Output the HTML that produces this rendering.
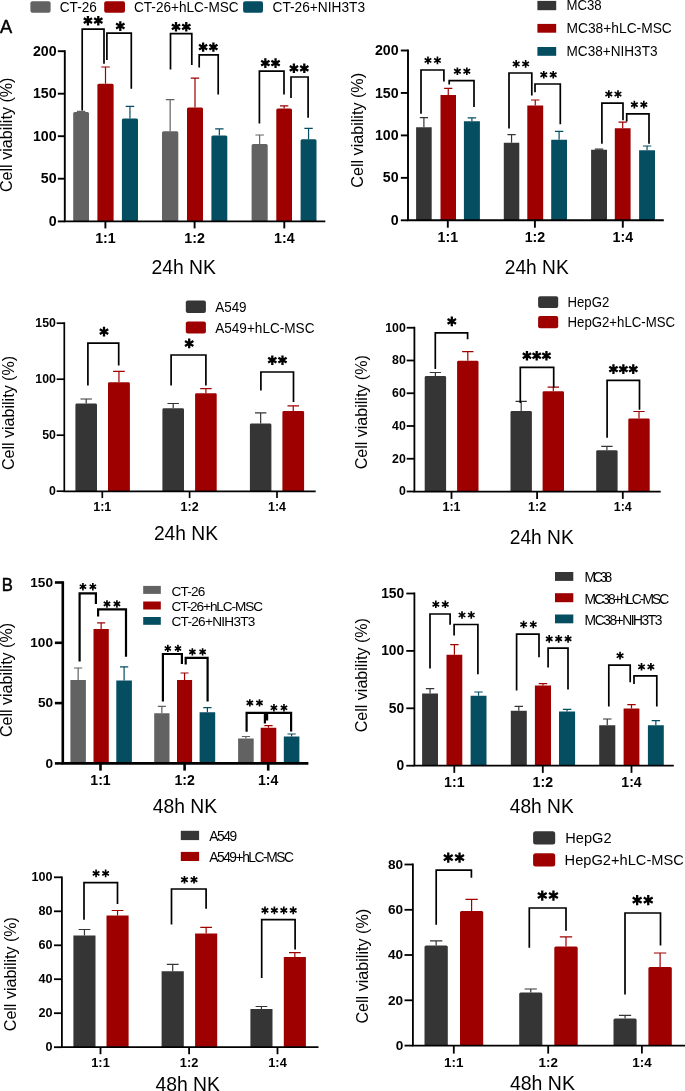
<!DOCTYPE html>
<html><head><meta charset="utf-8"><title>Figure</title>
<style>
html,body{margin:0;padding:0;background:#fff;}
body{width:685px;height:1091px;overflow:hidden;}
svg{display:block;will-change:transform;font-family:"Liberation Sans",sans-serif;fill:#000;}
</style></head>
<body>
<svg width="685" height="1091" viewBox="0 0 685 1091">
<rect x="0" y="0" width="685" height="1091" fill="#fff"/>
<g>
<path d="M81.1 112V111.4M76.91 111.4H85.29" stroke="#626262" stroke-width="1.2" fill="none"/>
<path d="M73.2 221.4V113.5Q73.2 112 74.7 112H87.5Q89 112 89 113.5V221.4Z" fill="#626262"/>
<path d="M105.5 83.7V67M101.21 67H109.79" stroke="#9E0000" stroke-width="1.2" fill="none"/>
<path d="M97.4 221.4V85.2Q97.4 83.7 98.9 83.7H112.1Q113.6 83.7 113.6 85.2V221.4Z" fill="#9E0000"/>
<path d="M129.95 118.6V106.3M125.68 106.3H134.22" stroke="#054E62" stroke-width="1.2" fill="none"/>
<path d="M121.9 221.4V120.1Q121.9 118.6 123.4 118.6H136.5Q138 118.6 138 120.1V221.4Z" fill="#054E62"/>
<path d="M170.15 131.2V99.7M165.83 99.7H174.47" stroke="#626262" stroke-width="1.2" fill="none"/>
<path d="M162 221.4V132.7Q162 131.2 163.5 131.2H176.8Q178.3 131.2 178.3 132.7V221.4Z" fill="#626262"/>
<path d="M195 107.5V78.1M190.76 78.1H199.24" stroke="#9E0000" stroke-width="1.2" fill="none"/>
<path d="M187 221.4V109Q187 107.5 188.5 107.5H201.5Q203 107.5 203 109V221.4Z" fill="#9E0000"/>
<path d="M219.35 135.6V128.8M215.14 128.8H223.56" stroke="#054E62" stroke-width="1.2" fill="none"/>
<path d="M211.4 221.4V137.1Q211.4 135.6 212.9 135.6H225.8Q227.3 135.6 227.3 137.1V221.4Z" fill="#054E62"/>
<path d="M259.65 143.9V135M255.38 135H263.92" stroke="#626262" stroke-width="1.2" fill="none"/>
<path d="M251.6 221.4V145.4Q251.6 143.9 253.1 143.9H266.2Q267.7 143.9 267.7 145.4V221.4Z" fill="#626262"/>
<path d="M284.15 108.5V105.8M279.99 105.8H288.31" stroke="#9E0000" stroke-width="1.2" fill="none"/>
<path d="M276.3 221.4V110Q276.3 108.5 277.8 108.5H290.5Q292 108.5 292 110V221.4Z" fill="#9E0000"/>
<path d="M308.55 139.3V128.3M304.34 128.3H312.76" stroke="#054E62" stroke-width="1.2" fill="none"/>
<path d="M300.6 221.4V140.8Q300.6 139.3 302.1 139.3H315Q316.5 139.3 316.5 140.8V221.4Z" fill="#054E62"/>
<path d="M64.8 50.25V221.4H325.3" stroke="#000" stroke-width="1.9" fill="none"/>
<path d="M57.85 221.4L64.8 221.4" stroke="#000" stroke-width="1.9"/>
<text x="56.6" y="225.98" font-size="14.2" text-anchor="end" font-weight="700">0</text>
<path d="M57.85 178.7L64.8 178.7" stroke="#000" stroke-width="1.9"/>
<text x="56.6" y="183.28" font-size="14.2" text-anchor="end" font-weight="700">50</text>
<path d="M57.85 136.2L64.8 136.2" stroke="#000" stroke-width="1.9"/>
<text x="56.6" y="140.78" font-size="14.2" text-anchor="end" font-weight="700">100</text>
<path d="M57.85 93.7L64.8 93.7" stroke="#000" stroke-width="1.9"/>
<text x="56.6" y="98.28" font-size="14.2" text-anchor="end" font-weight="700">150</text>
<path d="M57.85 51.2L64.8 51.2" stroke="#000" stroke-width="1.9"/>
<text x="56.6" y="55.78" font-size="14.2" text-anchor="end" font-weight="700">200</text>
<path d="M105.4 221.4L105.4 228.4" stroke="#000" stroke-width="1.9"/>
<text x="105.4" y="243" font-size="14.2" text-anchor="middle" font-weight="700">1:1</text>
<path d="M194.6 221.4L194.6 228.4" stroke="#000" stroke-width="1.9"/>
<text x="194.6" y="243" font-size="14.2" text-anchor="middle" font-weight="700">1:2</text>
<path d="M284.3 221.4L284.3 228.4" stroke="#000" stroke-width="1.9"/>
<text x="284.3" y="243" font-size="14.2" text-anchor="middle" font-weight="700">1:4</text>
<path d="M82.2 110.5V29.2H104V63.8" stroke="#000" stroke-width="1.7" fill="none"/>
<path d="M106.9 60V33.2H131.3V88.8" stroke="#000" stroke-width="1.7" fill="none"/>
<path d="M170.5 69.6V33.6H191.8V65" stroke="#000" stroke-width="1.7" fill="none"/>
<path d="M199.2 67.6V54.9H218.2V94.5" stroke="#000" stroke-width="1.7" fill="none"/>
<path d="M259.4 123.6V71.1H284V94.6" stroke="#000" stroke-width="1.7" fill="none"/>
<path d="M291 97.9V77H308.1V117.7" stroke="#000" stroke-width="1.7" fill="none"/>
<path d="M87.9 15.9L87.9 25.5M83.75 18.3L92.06 23.1M92.06 18.3L83.75 23.1" stroke="#000" stroke-width="2.3" fill="none"/>
<path d="M98.3 15.9L98.3 25.5M94.14 18.3L102.45 23.1M102.45 18.3L94.14 23.1" stroke="#000" stroke-width="2.3" fill="none"/>
<path d="M120.3 21.2L120.3 30.9M116.1 23.62L124.5 28.47M124.5 23.62L116.1 28.47" stroke="#000" stroke-width="2.3" fill="none"/>
<path d="M176 22L176 31.6M171.85 24.4L180.16 29.2M180.16 24.4L171.85 29.2" stroke="#000" stroke-width="2.3" fill="none"/>
<path d="M186.3 22L186.3 31.6M182.14 24.4L190.45 29.2M190.45 24.4L182.14 29.2" stroke="#000" stroke-width="2.3" fill="none"/>
<path d="M203.11 42.4L203.11 51.8M199.04 44.75L207.18 49.45M207.18 44.75L199.04 49.45" stroke="#000" stroke-width="2.3" fill="none"/>
<path d="M213.39 42.4L213.39 51.8M209.32 44.75L217.46 49.45M217.46 44.75L209.32 49.45" stroke="#000" stroke-width="2.3" fill="none"/>
<path d="M265.35 58.3L265.35 68M261.15 60.73L269.55 65.58M269.55 60.73L261.15 65.58" stroke="#000" stroke-width="2.3" fill="none"/>
<path d="M275.55 58.3L275.55 68M271.35 60.73L279.75 65.58M279.75 60.73L271.35 65.58" stroke="#000" stroke-width="2.3" fill="none"/>
<path d="M293.9 63.5L293.9 73.1M289.75 65.9L298.06 70.7M298.06 65.9L289.75 70.7" stroke="#000" stroke-width="2.3" fill="none"/>
<path d="M304.3 63.5L304.3 73.1M300.14 65.9L308.45 70.7M308.45 65.9L300.14 70.7" stroke="#000" stroke-width="2.3" fill="none"/>
<rect x="30.4" y="1.2" width="20.2" height="11.6" fill="#626262" rx="2"/>
<rect x="104.2" y="1.2" width="20.8" height="11.6" fill="#9E0000" rx="2"/>
<rect x="243.1" y="1.2" width="19.9" height="11.6" fill="#054E62" rx="2"/>
<text x="59.8" y="11.8" font-size="14" textLength="37" lengthAdjust="spacingAndGlyphs">CT-26</text>
<text x="134" y="11.8" font-size="14" textLength="104.6" lengthAdjust="spacingAndGlyphs">CT-26+hLC-MSC</text>
<text x="272.5" y="11.8" font-size="14" textLength="92.6" lengthAdjust="spacingAndGlyphs">CT-26+NIH3T3</text>
<text x="151.4" y="273.5" font-size="20.5" textLength="64.5" lengthAdjust="spacingAndGlyphs">24h NK</text>
<text x="12.3" y="192.1" font-size="16.6" textLength="114.6" lengthAdjust="spacingAndGlyphs" transform="rotate(-90 12.3 192.1)">Cell viability (%)</text>
</g>
<g>
<path d="M423.9 127.2V117.6M419.77 117.6H428.03" stroke="#353535" stroke-width="1.2" fill="none"/>
<path d="M416.1 220.3V127.21Q416.1 127.2 416.11 127.2H431.69Q431.7 127.2 431.7 127.21V220.3Z" fill="#353535"/>
<path d="M448.25 95V88.4M444.14 88.4H452.36" stroke="#9E0000" stroke-width="1.2" fill="none"/>
<path d="M440.5 220.3V95.01Q440.5 95 440.51 95H455.99Q456 95 456 95.01V220.3Z" fill="#9E0000"/>
<path d="M471.9 121.2V117.9M467.66 117.9H476.14" stroke="#054E62" stroke-width="1.2" fill="none"/>
<path d="M463.9 220.3V121.21Q463.9 121.2 463.91 121.2H479.89Q479.9 121.2 479.9 121.21V220.3Z" fill="#054E62"/>
<path d="M511.55 142.7V134.7M507.44 134.7H515.66" stroke="#353535" stroke-width="1.2" fill="none"/>
<path d="M503.8 220.3V142.71Q503.8 142.7 503.81 142.7H519.29Q519.3 142.7 519.3 142.71V220.3Z" fill="#353535"/>
<path d="M535.25 105.5V100M531.04 100H539.46" stroke="#9E0000" stroke-width="1.2" fill="none"/>
<path d="M527.3 220.3V105.51Q527.3 105.5 527.31 105.5H543.19Q543.2 105.5 543.2 105.51V220.3Z" fill="#9E0000"/>
<path d="M559.1 139.7V131.3M554.91 131.3H563.29" stroke="#054E62" stroke-width="1.2" fill="none"/>
<path d="M551.2 220.3V139.71Q551.2 139.7 551.21 139.7H566.99Q567 139.7 567 139.71V220.3Z" fill="#054E62"/>
<path d="M599.05 149.7V149.2M594.84 149.2H603.26" stroke="#353535" stroke-width="1.2" fill="none"/>
<path d="M591.1 220.3V149.71Q591.1 149.7 591.11 149.7H606.99Q607 149.7 607 149.71V220.3Z" fill="#353535"/>
<path d="M622.7 128.2V122.2M618.51 122.2H626.89" stroke="#9E0000" stroke-width="1.2" fill="none"/>
<path d="M614.8 220.3V128.21Q614.8 128.2 614.81 128.2H630.59Q630.6 128.2 630.6 128.21V220.3Z" fill="#9E0000"/>
<path d="M647.05 150.3V146M642.84 146H651.26" stroke="#054E62" stroke-width="1.2" fill="none"/>
<path d="M639.1 220.3V150.31Q639.1 150.3 639.11 150.3H654.99Q655 150.3 655 150.31V220.3Z" fill="#054E62"/>
<path d="M408 49.55V220.3H663.8" stroke="#000" stroke-width="1.9" fill="none"/>
<path d="M400.85 220.3L408 220.3" stroke="#000" stroke-width="1.9"/>
<text x="398.6" y="224.88" font-size="14.2" text-anchor="end" font-weight="700">0</text>
<path d="M400.85 177.85L408 177.85" stroke="#000" stroke-width="1.9"/>
<text x="398.6" y="182.43" font-size="14.2" text-anchor="end" font-weight="700">50</text>
<path d="M400.85 135.4L408 135.4" stroke="#000" stroke-width="1.9"/>
<text x="398.6" y="139.98" font-size="14.2" text-anchor="end" font-weight="700">100</text>
<path d="M400.85 92.95L408 92.95" stroke="#000" stroke-width="1.9"/>
<text x="398.6" y="97.53" font-size="14.2" text-anchor="end" font-weight="700">150</text>
<path d="M400.85 50.5L408 50.5" stroke="#000" stroke-width="1.9"/>
<text x="398.6" y="55.08" font-size="14.2" text-anchor="end" font-weight="700">200</text>
<path d="M447.8 220.3L447.8 227.7" stroke="#000" stroke-width="1.9"/>
<text x="447.8" y="242" font-size="14.2" text-anchor="middle" font-weight="700">1:1</text>
<path d="M534.9 220.3L534.9 227.7" stroke="#000" stroke-width="1.9"/>
<text x="534.9" y="242" font-size="14.2" text-anchor="middle" font-weight="700">1:2</text>
<path d="M622.8 220.3L622.8 227.7" stroke="#000" stroke-width="1.9"/>
<text x="622.8" y="242" font-size="14.2" text-anchor="middle" font-weight="700">1:4</text>
<path d="M421 113.7V70H443.9V81.4" stroke="#000" stroke-width="1.7" fill="none"/>
<path d="M449.2 84.5V80.6H474V106.9" stroke="#000" stroke-width="1.7" fill="none"/>
<path d="M509 128.5V73H531.8V95.5" stroke="#000" stroke-width="1.7" fill="none"/>
<path d="M535 92.3V84H560.3V124.2" stroke="#000" stroke-width="1.7" fill="none"/>
<path d="M601.9 143.8V103.1H623V120.2" stroke="#000" stroke-width="1.7" fill="none"/>
<path d="M626.7 121.4V113.8H649V143.8" stroke="#000" stroke-width="1.7" fill="none"/>
<path d="M427.97 56.6L427.97 64.3M424.64 58.53L431.31 62.38M431.31 58.53L424.64 62.38" stroke="#000" stroke-width="1.65" fill="none"/>
<path d="M437.43 56.6L437.43 64.3M434.09 58.53L440.76 62.38M440.76 58.53L434.09 62.38" stroke="#000" stroke-width="1.65" fill="none"/>
<path d="M457.37 67.4L457.37 75.1M454.04 69.33L460.71 73.17M460.71 69.33L454.04 73.17" stroke="#000" stroke-width="1.65" fill="none"/>
<path d="M466.83 67.4L466.83 75.1M463.49 69.33L470.16 73.17M470.16 69.33L463.49 73.17" stroke="#000" stroke-width="1.65" fill="none"/>
<path d="M516.17 60.1L516.17 67.8M512.84 62.03L519.51 65.88M519.51 62.03L512.84 65.88" stroke="#000" stroke-width="1.65" fill="none"/>
<path d="M525.63 60.1L525.63 67.8M522.29 62.03L528.96 65.88M528.96 62.03L522.29 65.88" stroke="#000" stroke-width="1.65" fill="none"/>
<path d="M543.77 70.9L543.77 78.6M540.44 72.83L547.11 76.67M547.11 72.83L540.44 76.67" stroke="#000" stroke-width="1.65" fill="none"/>
<path d="M553.23 70.9L553.23 78.6M549.89 72.83L556.56 76.67M556.56 72.83L549.89 76.67" stroke="#000" stroke-width="1.65" fill="none"/>
<path d="M608.82 90.2L608.82 98M605.44 92.15L612.2 96.05M612.2 92.15L605.44 96.05" stroke="#000" stroke-width="1.65" fill="none"/>
<path d="M617.98 90.2L617.98 98M614.6 92.15L621.36 96.05M621.36 92.15L614.6 96.05" stroke="#000" stroke-width="1.65" fill="none"/>
<path d="M634.37 100.8L634.37 108.5M631.04 102.73L637.71 106.58M637.71 102.73L631.04 106.58" stroke="#000" stroke-width="1.65" fill="none"/>
<path d="M643.83 100.8L643.83 108.5M640.49 102.73L647.16 106.58M647.16 102.73L640.49 106.58" stroke="#000" stroke-width="1.65" fill="none"/>
<rect x="537.4" y="0.9" width="18.8" height="9.3" fill="#353535"/>
<rect x="537.4" y="23.9" width="18.8" height="8.8" fill="#9E0000"/>
<rect x="537.4" y="47" width="18.8" height="8.8" fill="#054E62"/>
<text x="566.5" y="10.3" font-size="14" textLength="35.2" lengthAdjust="spacingAndGlyphs">MC38</text>
<text x="566.5" y="33.2" font-size="14" textLength="105.3" lengthAdjust="spacingAndGlyphs">MC38+hLC-MSC</text>
<text x="566.5" y="55.9" font-size="14" textLength="91" lengthAdjust="spacingAndGlyphs">MC38+NIH3T3</text>
<text x="504.8" y="273.9" font-size="20.5" textLength="63.9" lengthAdjust="spacingAndGlyphs">24h NK</text>
<text x="362.9" y="187.7" font-size="16.6" textLength="114.8" lengthAdjust="spacingAndGlyphs" transform="rotate(-90 362.9 187.7)">Cell viability (%)</text>
</g>
<g>
<path d="M86.2 403.6V399M80.48 399H91.92" stroke="#353535" stroke-width="1.2" fill="none"/>
<path d="M75.4 491.3V405Q75.4 403.6 76.8 403.6H95.6Q97 403.6 97 405V491.3Z" fill="#353535"/>
<path d="M118.95 382.3V371.3M113.15 371.3H124.75" stroke="#9E0000" stroke-width="1.2" fill="none"/>
<path d="M108 491.3V383.7Q108 382.3 109.4 382.3H128.5Q129.9 382.3 129.9 383.7V491.3Z" fill="#9E0000"/>
<path d="M173.2 408.3V403.5M167.48 403.5H178.92" stroke="#353535" stroke-width="1.2" fill="none"/>
<path d="M162.4 491.3V409.7Q162.4 408.3 163.8 408.3H182.6Q184 408.3 184 409.7V491.3Z" fill="#353535"/>
<path d="M205.9 393.2V388.6M200.18 388.6H211.62" stroke="#9E0000" stroke-width="1.2" fill="none"/>
<path d="M195.1 491.3V394.6Q195.1 393.2 196.5 393.2H215.3Q216.7 393.2 216.7 394.6V491.3Z" fill="#9E0000"/>
<path d="M260.65 423.5V412.8M254.95 412.8H266.35" stroke="#353535" stroke-width="1.2" fill="none"/>
<path d="M249.9 491.3V424.9Q249.9 423.5 251.3 423.5H270Q271.4 423.5 271.4 424.9V491.3Z" fill="#353535"/>
<path d="M293.25 411V405.8M287.5 405.8H299" stroke="#9E0000" stroke-width="1.2" fill="none"/>
<path d="M282.4 491.3V412.4Q282.4 411 283.8 411H302.7Q304.1 411 304.1 412.4V491.3Z" fill="#9E0000"/>
<path d="M64.3 322.35V491.3H315.7" stroke="#000" stroke-width="1.7" fill="none"/>
<path d="M56.65 491.2L64.3 491.2" stroke="#000" stroke-width="1.7"/>
<text x="55.9" y="495.1" font-size="12.3" text-anchor="end" font-weight="700">0</text>
<path d="M56.65 435.2L64.3 435.2" stroke="#000" stroke-width="1.7"/>
<text x="55.9" y="439.1" font-size="12.3" text-anchor="end" font-weight="700">50</text>
<path d="M56.65 379.2L64.3 379.2" stroke="#000" stroke-width="1.7"/>
<text x="55.9" y="383.1" font-size="12.3" text-anchor="end" font-weight="700">100</text>
<path d="M56.65 323.2L64.3 323.2" stroke="#000" stroke-width="1.7"/>
<text x="55.9" y="327.1" font-size="12.3" text-anchor="end" font-weight="700">150</text>
<path d="M102.3 491.3L102.3 498.1" stroke="#000" stroke-width="1.7"/>
<text x="102.3" y="510.8" font-size="12.5" text-anchor="middle" font-weight="700">1:1</text>
<path d="M189.6 491.3L189.6 498.1" stroke="#000" stroke-width="1.7"/>
<text x="189.6" y="510.8" font-size="12.5" text-anchor="middle" font-weight="700">1:2</text>
<path d="M277 491.3L277 498.1" stroke="#000" stroke-width="1.7"/>
<text x="277" y="510.8" font-size="12.5" text-anchor="middle" font-weight="700">1:4</text>
<path d="M87.9 385.4V343.2H118.7V365.5" stroke="#000" stroke-width="1.7" fill="none"/>
<path d="M171.1 385.4V355H205.9V385.4" stroke="#000" stroke-width="1.7" fill="none"/>
<path d="M260.9 390.5V372H293.5V401.9" stroke="#000" stroke-width="1.7" fill="none"/>
<path d="M104 326.7L104 336.5M99.76 329.15L108.24 334.05M108.24 329.15L99.76 334.05" stroke="#000" stroke-width="2.3" fill="none"/>
<path d="M189.2 338.6L189.2 348.3M185 341.03L193.4 345.88M193.4 341.03L185 345.88" stroke="#000" stroke-width="2.3" fill="none"/>
<path d="M272.3 355.4L272.3 365M268.15 357.8L276.46 362.6M276.46 357.8L268.15 362.6" stroke="#000" stroke-width="2.3" fill="none"/>
<path d="M282.5 355.4L282.5 365M278.34 357.8L286.65 362.6M286.65 357.8L278.34 362.6" stroke="#000" stroke-width="2.3" fill="none"/>
<rect x="185.8" y="300.6" width="20.1" height="12.5" fill="#353535" rx="2"/>
<rect x="185.8" y="321.4" width="20.1" height="12.1" fill="#9E0000" rx="2"/>
<text x="215.2" y="312.1" font-size="14" textLength="31.4" lengthAdjust="spacingAndGlyphs">A549</text>
<text x="215.2" y="332.7" font-size="14" textLength="99.3" lengthAdjust="spacingAndGlyphs">A549+hLC-MSC</text>
<text x="153.9" y="540" font-size="20.5" textLength="64.1" lengthAdjust="spacingAndGlyphs">24h NK</text>
<text x="13.8" y="470.1" font-size="16.6" textLength="114.2" lengthAdjust="spacingAndGlyphs" transform="rotate(-90 13.8 470.1)">Cell viability (%)</text>
</g>
<g>
<path d="M435.4 376.1V372.5M429.73 372.5H441.07" stroke="#353535" stroke-width="1.2" fill="none"/>
<path d="M424.7 491.7V377.5Q424.7 376.1 426.1 376.1H444.7Q446.1 376.1 446.1 377.5V491.7Z" fill="#353535"/>
<path d="M467.8 360.8V351.7M462.13 351.7H473.47" stroke="#9E0000" stroke-width="1.2" fill="none"/>
<path d="M457.1 491.7V362.2Q457.1 360.8 458.5 360.8H477.1Q478.5 360.8 478.5 362.2V491.7Z" fill="#9E0000"/>
<path d="M521.2 411V401.3M515.53 401.3H526.87" stroke="#353535" stroke-width="1.2" fill="none"/>
<path d="M510.5 491.7V412.4Q510.5 411 511.9 411H530.5Q531.9 411 531.9 412.4V491.7Z" fill="#353535"/>
<path d="M553.3 391.3V387.2M547.63 387.2H558.97" stroke="#9E0000" stroke-width="1.2" fill="none"/>
<path d="M542.6 491.7V392.7Q542.6 391.3 544 391.3H562.6Q564 391.3 564 392.7V491.7Z" fill="#9E0000"/>
<path d="M606.9 450.2V446.4M601.23 446.4H612.57" stroke="#353535" stroke-width="1.2" fill="none"/>
<path d="M596.2 491.7V451.6Q596.2 450.2 597.6 450.2H616.2Q617.6 450.2 617.6 451.6V491.7Z" fill="#353535"/>
<path d="M639 418.4V411.5M633.33 411.5H644.67" stroke="#9E0000" stroke-width="1.2" fill="none"/>
<path d="M628.3 491.7V419.8Q628.3 418.4 629.7 418.4H648.3Q649.7 418.4 649.7 419.8V491.7Z" fill="#9E0000"/>
<path d="M414.4 326.85V491.7H660.7" stroke="#000" stroke-width="1.8" fill="none"/>
<path d="M406.7 491.5L414.4 491.5" stroke="#000" stroke-width="1.8"/>
<text x="405.8" y="495.4" font-size="12.3" text-anchor="end" font-weight="700">0</text>
<path d="M406.7 458.75L414.4 458.75" stroke="#000" stroke-width="1.8"/>
<text x="405.8" y="462.65" font-size="12.3" text-anchor="end" font-weight="700">20</text>
<path d="M406.7 426L414.4 426" stroke="#000" stroke-width="1.8"/>
<text x="405.8" y="429.9" font-size="12.3" text-anchor="end" font-weight="700">40</text>
<path d="M406.7 393.25L414.4 393.25" stroke="#000" stroke-width="1.8"/>
<text x="405.8" y="397.15" font-size="12.3" text-anchor="end" font-weight="700">60</text>
<path d="M406.7 360.5L414.4 360.5" stroke="#000" stroke-width="1.8"/>
<text x="405.8" y="364.4" font-size="12.3" text-anchor="end" font-weight="700">80</text>
<path d="M406.7 327.75L414.4 327.75" stroke="#000" stroke-width="1.8"/>
<text x="405.8" y="331.65" font-size="12.3" text-anchor="end" font-weight="700">100</text>
<path d="M451.5 491.7L451.5 498.9" stroke="#000" stroke-width="1.8"/>
<text x="451.5" y="511.2" font-size="12.5" text-anchor="middle" font-weight="700">1:1</text>
<path d="M537.1 491.7L537.1 498.9" stroke="#000" stroke-width="1.8"/>
<text x="537.1" y="511.2" font-size="12.5" text-anchor="middle" font-weight="700">1:2</text>
<path d="M622.8 491.7L622.8 498.9" stroke="#000" stroke-width="1.8"/>
<text x="622.8" y="511.2" font-size="12.5" text-anchor="middle" font-weight="700">1:4</text>
<path d="M435.3 369V332.9H467.6V339.2" stroke="#000" stroke-width="1.7" fill="none"/>
<path d="M520.3 403V367.3H553.7V387.6" stroke="#000" stroke-width="1.7" fill="none"/>
<path d="M607.1 437.7V380.3H639.5V409.7" stroke="#000" stroke-width="1.7" fill="none"/>
<path d="M451.8 316.5L451.8 326.3M447.56 318.95L456.04 323.85M456.04 318.95L447.56 323.85" stroke="#000" stroke-width="2.3" fill="none"/>
<path d="M526.95 350.9L526.95 360.6M522.75 353.32L531.15 358.18M531.15 353.32L522.75 358.18" stroke="#000" stroke-width="2.3" fill="none"/>
<path d="M536.7 350.9L536.7 360.6M532.5 353.32L540.9 358.18M540.9 353.32L532.5 358.18" stroke="#000" stroke-width="2.3" fill="none"/>
<path d="M546.45 350.9L546.45 360.6M542.25 353.32L550.65 358.18M550.65 353.32L542.25 358.18" stroke="#000" stroke-width="2.3" fill="none"/>
<path d="M613.45 364.3L613.45 374M609.25 366.72L617.65 371.57M617.65 366.72L609.25 371.57" stroke="#000" stroke-width="2.3" fill="none"/>
<path d="M623.35 364.3L623.35 374M619.15 366.72L627.55 371.57M627.55 366.72L619.15 371.57" stroke="#000" stroke-width="2.3" fill="none"/>
<path d="M633.25 364.3L633.25 374M629.05 366.72L637.45 371.57M637.45 366.72L629.05 371.57" stroke="#000" stroke-width="2.3" fill="none"/>
<rect x="538.1" y="296.3" width="20.1" height="11.8" fill="#353535" rx="2"/>
<rect x="538.1" y="315.9" width="20.1" height="12.3" fill="#9E0000" rx="2"/>
<text x="567.5" y="307" font-size="14" textLength="41.7" lengthAdjust="spacingAndGlyphs">HepG2</text>
<text x="567.5" y="327.2" font-size="14" textLength="107.5" lengthAdjust="spacingAndGlyphs">HepG2+hLC-MSC</text>
<text x="509.8" y="544.4" font-size="20.5" textLength="63.9" lengthAdjust="spacingAndGlyphs">24h NK</text>
<text x="367.1" y="469.3" font-size="16.6" textLength="114.1" lengthAdjust="spacingAndGlyphs" transform="rotate(-90 367.1 469.3)">Cell viability (%)</text>
</g>
<g>
<path d="M78.15 680.1V668M74.04 668H82.26" stroke="#626262" stroke-width="1.2" fill="none"/>
<path d="M70.4 763.4V680.11Q70.4 680.1 70.41 680.1H85.89Q85.9 680.1 85.9 680.11V763.4Z" fill="#626262"/>
<path d="M101.15 629.1V622.8M97.1 622.8H105.2" stroke="#9E0000" stroke-width="1.2" fill="none"/>
<path d="M93.5 763.4V629.11Q93.5 629.1 93.51 629.1H108.79Q108.8 629.1 108.8 629.11V763.4Z" fill="#9E0000"/>
<path d="M124.1 680.6V666.8M119.97 666.8H128.23" stroke="#054E62" stroke-width="1.2" fill="none"/>
<path d="M116.3 763.4V680.61Q116.3 680.6 116.31 680.6H131.89Q131.9 680.6 131.9 680.61V763.4Z" fill="#054E62"/>
<path d="M161.85 713.2V706.4M157.8 706.4H165.9" stroke="#626262" stroke-width="1.2" fill="none"/>
<path d="M154.2 763.4V713.21Q154.2 713.2 154.21 713.2H169.49Q169.5 713.2 169.5 713.21V763.4Z" fill="#626262"/>
<path d="M184.55 680.1V673M180.55 673H188.55" stroke="#9E0000" stroke-width="1.2" fill="none"/>
<path d="M177 763.4V680.11Q177 680.1 177.01 680.1H192.09Q192.1 680.1 192.1 680.11V763.4Z" fill="#9E0000"/>
<path d="M207.4 712.2V707.6M203.27 707.6H211.53" stroke="#054E62" stroke-width="1.2" fill="none"/>
<path d="M199.6 763.4V712.21Q199.6 712.2 199.61 712.2H215.19Q215.2 712.2 215.2 712.21V763.4Z" fill="#054E62"/>
<path d="M245.9 738.5V736.5M241.77 736.5H250.03" stroke="#626262" stroke-width="1.2" fill="none"/>
<path d="M238.1 763.4V738.51Q238.1 738.5 238.11 738.5H253.69Q253.7 738.5 253.7 738.51V763.4Z" fill="#626262"/>
<path d="M268.5 727.7V725.7M264.37 725.7H272.63" stroke="#9E0000" stroke-width="1.2" fill="none"/>
<path d="M260.7 763.4V727.71Q260.7 727.7 260.71 727.7H276.29Q276.3 727.7 276.3 727.71V763.4Z" fill="#9E0000"/>
<path d="M291.6 736.5V734M287.47 734H295.73" stroke="#054E62" stroke-width="1.2" fill="none"/>
<path d="M283.8 763.4V736.51Q283.8 736.5 283.81 736.5H299.39Q299.4 736.5 299.4 736.51V763.4Z" fill="#054E62"/>
<path d="M62.8 581.2V763.4H308.4" stroke="#000" stroke-width="2.6" fill="none"/>
<path d="M54.9 763.4L62.8 763.4" stroke="#000" stroke-width="2.6"/>
<text x="53" y="767.77" font-size="13.6" text-anchor="end" font-weight="700">0</text>
<path d="M54.9 703.1L62.8 703.1" stroke="#000" stroke-width="2.6"/>
<text x="53" y="707.47" font-size="13.6" text-anchor="end" font-weight="700">50</text>
<path d="M54.9 642.8L62.8 642.8" stroke="#000" stroke-width="2.6"/>
<text x="53" y="647.17" font-size="13.6" text-anchor="end" font-weight="700">100</text>
<path d="M54.9 582.5L62.8 582.5" stroke="#000" stroke-width="2.6"/>
<text x="53" y="586.87" font-size="13.6" text-anchor="end" font-weight="700">150</text>
<path d="M100.5 763.4L100.5 770.6" stroke="#000" stroke-width="2.6"/>
<text x="100.5" y="784.7" font-size="14.1" text-anchor="middle" font-weight="700">1:1</text>
<path d="M184.6 763.4L184.6 770.6" stroke="#000" stroke-width="2.6"/>
<text x="184.6" y="784.7" font-size="14.1" text-anchor="middle" font-weight="700">1:2</text>
<path d="M268.2 763.4L268.2 770.6" stroke="#000" stroke-width="2.6"/>
<text x="268.2" y="784.7" font-size="14.1" text-anchor="middle" font-weight="700">1:4</text>
<path d="M79.6 661.5V593.4H95.9V604" stroke="#000" stroke-width="2.2" fill="none"/>
<path d="M98.1 616.5V609.3H126V656.7" stroke="#000" stroke-width="2.2" fill="none"/>
<path d="M162.9 701.4V654H181.9V664" stroke="#000" stroke-width="2.2" fill="none"/>
<path d="M185.7 664.5V657.9H207.6V701.4" stroke="#000" stroke-width="2.2" fill="none"/>
<path d="M246.6 731.7V712.8H264.9V723.5" stroke="#000" stroke-width="2.2" fill="none"/>
<path d="M267.1 720.6V712.8H291.1V731.4" stroke="#000" stroke-width="2.2" fill="none"/>
<path d="M82.93 583L82.93 590.4M79.72 584.85L86.13 588.55M86.13 584.85L79.72 588.55" stroke="#000" stroke-width="1.65" fill="none"/>
<path d="M92.87 583L92.87 590.4M89.67 584.85L96.08 588.55M96.08 584.85L89.67 588.55" stroke="#000" stroke-width="1.65" fill="none"/>
<path d="M106.97 600.2L106.97 607.7M103.73 602.08L110.22 605.83M110.22 602.08L103.73 605.83" stroke="#000" stroke-width="1.65" fill="none"/>
<path d="M116.92 600.2L116.92 607.7M113.68 602.08L120.17 605.83M120.17 602.08L113.68 605.83" stroke="#000" stroke-width="1.65" fill="none"/>
<path d="M167.83 644.8L167.83 652M164.71 646.6L170.95 650.2M170.95 646.6L164.71 650.2" stroke="#000" stroke-width="1.65" fill="none"/>
<path d="M177.97 644.8L177.97 652M174.85 646.6L181.09 650.2M181.09 646.6L174.85 650.2" stroke="#000" stroke-width="1.65" fill="none"/>
<path d="M192.38 648.2L192.38 655.5M189.22 650.03L195.54 653.67M195.54 650.03L189.22 653.67" stroke="#000" stroke-width="1.65" fill="none"/>
<path d="M202.62 648.2L202.62 655.5M199.46 650.03L205.78 653.67M205.78 650.03L199.46 653.67" stroke="#000" stroke-width="1.65" fill="none"/>
<path d="M249.83 699.2L249.83 706.6M246.62 701.05L253.03 704.75M253.03 701.05L246.62 704.75" stroke="#000" stroke-width="1.65" fill="none"/>
<path d="M259.47 699.2L259.47 706.6M256.27 701.05L262.68 704.75M262.68 701.05L256.27 704.75" stroke="#000" stroke-width="1.65" fill="none"/>
<path d="M273.93 704.1L273.93 711.5M270.72 705.95L277.13 709.65M277.13 705.95L270.72 709.65" stroke="#000" stroke-width="1.65" fill="none"/>
<path d="M283.97 704.1L283.97 711.5M280.77 705.95L287.18 709.65M287.18 705.95L280.77 709.65" stroke="#000" stroke-width="1.65" fill="none"/>
<rect x="143.2" y="585.9" width="17.6" height="8" fill="#626262"/>
<rect x="143.2" y="601.5" width="17.6" height="8" fill="#9E0000"/>
<rect x="143.2" y="617" width="17.6" height="7.8" fill="#054E62"/>
<text x="171.5" y="595.7" font-size="13.6" textLength="33.9" lengthAdjust="spacing">CT-26</text>
<text x="171.5" y="610.8" font-size="13.6" textLength="91.5" lengthAdjust="spacing">CT-26+hLC-MSC</text>
<text x="171.5" y="626" font-size="13.6" textLength="83.9" lengthAdjust="spacing">CT-26+NIH3T3</text>
<text x="152.8" y="813.2" font-size="20.5" textLength="64.3" lengthAdjust="spacingAndGlyphs">48h NK</text>
<text x="12.2" y="737.1" font-size="16.6" textLength="114.2" lengthAdjust="spacingAndGlyphs" transform="rotate(-90 12.2 737.1)">Cell viability (%)</text>
</g>
<g>
<path d="M430.05 693.5V688.7M425.84 688.7H434.26" stroke="#353535" stroke-width="1.2" fill="none"/>
<path d="M422.1 765.7V693.51Q422.1 693.5 422.11 693.5H437.99Q438 693.5 438 693.51V765.7Z" fill="#353535"/>
<path d="M454.4 654.7V644.7M450.21 644.7H458.59" stroke="#9E0000" stroke-width="1.2" fill="none"/>
<path d="M446.5 765.7V654.71Q446.5 654.7 446.51 654.7H462.29Q462.3 654.7 462.3 654.71V765.7Z" fill="#9E0000"/>
<path d="M478.55 695.8V692M474.34 692H482.76" stroke="#054E62" stroke-width="1.2" fill="none"/>
<path d="M470.6 765.7V695.81Q470.6 695.8 470.61 695.8H486.49Q486.5 695.8 486.5 695.81V765.7Z" fill="#054E62"/>
<path d="M518.8 710.8V706.4M514.56 706.4H523.04" stroke="#353535" stroke-width="1.2" fill="none"/>
<path d="M510.8 765.7V710.81Q510.8 710.8 510.81 710.8H526.79Q526.8 710.8 526.8 710.81V765.7Z" fill="#353535"/>
<path d="M542.95 685.5V683.7M538.68 683.7H547.22" stroke="#9E0000" stroke-width="1.2" fill="none"/>
<path d="M534.9 765.7V685.51Q534.9 685.5 534.91 685.5H550.99Q551 685.5 551 685.51V765.7Z" fill="#9E0000"/>
<path d="M567.05 711.4V709.4M562.78 709.4H571.32" stroke="#054E62" stroke-width="1.2" fill="none"/>
<path d="M559 765.7V711.41Q559 711.4 559.01 711.4H575.09Q575.1 711.4 575.1 711.41V765.7Z" fill="#054E62"/>
<path d="M607.25 725.2V719M602.98 719H611.52" stroke="#353535" stroke-width="1.2" fill="none"/>
<path d="M599.2 765.7V725.21Q599.2 725.2 599.21 725.2H615.29Q615.3 725.2 615.3 725.21V765.7Z" fill="#353535"/>
<path d="M631.5 708.4V704.6M627.31 704.6H635.69" stroke="#9E0000" stroke-width="1.2" fill="none"/>
<path d="M623.6 765.7V708.41Q623.6 708.4 623.61 708.4H639.39Q639.4 708.4 639.4 708.41V765.7Z" fill="#9E0000"/>
<path d="M655.85 725.2V720.7M651.64 720.7H660.06" stroke="#054E62" stroke-width="1.2" fill="none"/>
<path d="M647.9 765.7V725.21Q647.9 725.2 647.91 725.2H663.79Q663.8 725.2 663.8 725.21V765.7Z" fill="#054E62"/>
<path d="M414.4 592.6V765.7H673.8" stroke="#000" stroke-width="1.8" fill="none"/>
<path d="M406.3 765.7L414.4 765.7" stroke="#000" stroke-width="1.8"/>
<text x="404.2" y="770.14" font-size="13.8" text-anchor="end" font-weight="700">0</text>
<path d="M406.3 708.3L414.4 708.3" stroke="#000" stroke-width="1.8"/>
<text x="404.2" y="712.74" font-size="13.8" text-anchor="end" font-weight="700">50</text>
<path d="M406.3 650.9L414.4 650.9" stroke="#000" stroke-width="1.8"/>
<text x="404.2" y="655.34" font-size="13.8" text-anchor="end" font-weight="700">100</text>
<path d="M406.3 593.5L414.4 593.5" stroke="#000" stroke-width="1.8"/>
<text x="404.2" y="597.94" font-size="13.8" text-anchor="end" font-weight="700">150</text>
<path d="M454.3 765.7L454.3 772.9" stroke="#000" stroke-width="1.8"/>
<text x="454.3" y="786.7" font-size="14.1" text-anchor="middle" font-weight="700">1:1</text>
<path d="M542.8 765.7L542.8 772.9" stroke="#000" stroke-width="1.8"/>
<text x="542.8" y="786.7" font-size="14.1" text-anchor="middle" font-weight="700">1:2</text>
<path d="M631.5 765.7L631.5 772.9" stroke="#000" stroke-width="1.8"/>
<text x="631.5" y="786.7" font-size="14.1" text-anchor="middle" font-weight="700">1:4</text>
<path d="M430 668.5V614H450.1V624.7" stroke="#000" stroke-width="1.7" fill="none"/>
<path d="M454.1 635.5V624.5H477.9V674.3" stroke="#000" stroke-width="1.7" fill="none"/>
<path d="M516.6 690.6V634.1H539V657.3" stroke="#000" stroke-width="1.7" fill="none"/>
<path d="M548.1 667.6V648.1H568V689.6" stroke="#000" stroke-width="1.7" fill="none"/>
<path d="M608.8 706.6V665.1H630.2V682.3" stroke="#000" stroke-width="1.7" fill="none"/>
<path d="M634 684.1V675.8H656.8V706.6" stroke="#000" stroke-width="1.7" fill="none"/>
<path d="M435.82 600.5L435.82 608.1M432.53 602.4L439.11 606.2M439.11 602.4L432.53 606.2" stroke="#000" stroke-width="1.65" fill="none"/>
<path d="M445.28 600.5L445.28 608.1M441.99 602.4L448.57 606.2M448.57 602.4L441.99 606.2" stroke="#000" stroke-width="1.65" fill="none"/>
<path d="M462.02 611.2L462.02 618.8M458.73 613.1L465.31 616.9M465.31 613.1L458.73 616.9" stroke="#000" stroke-width="1.65" fill="none"/>
<path d="M471.28 611.2L471.28 618.8M467.99 613.1L474.57 616.9M474.57 613.1L467.99 616.9" stroke="#000" stroke-width="1.65" fill="none"/>
<path d="M523.62 620.7L523.62 628.3M520.33 622.6L526.91 626.4M526.91 622.6L520.33 626.4" stroke="#000" stroke-width="1.65" fill="none"/>
<path d="M533.28 620.7L533.28 628.3M529.99 622.6L536.57 626.4M536.57 622.6L529.99 626.4" stroke="#000" stroke-width="1.65" fill="none"/>
<path d="M549.22 635.1L549.22 642.7M545.93 637L552.51 640.8M552.51 637L545.93 640.8" stroke="#000" stroke-width="1.65" fill="none"/>
<path d="M558.65 635.1L558.65 642.7M555.36 637L561.94 640.8M561.94 637L555.36 640.8" stroke="#000" stroke-width="1.65" fill="none"/>
<path d="M568.08 635.1L568.08 642.7M564.79 637L571.37 640.8M571.37 637L564.79 640.8" stroke="#000" stroke-width="1.65" fill="none"/>
<path d="M620.05 651.8L620.05 659.6M616.67 653.75L623.43 657.65M623.43 653.75L616.67 657.65" stroke="#000" stroke-width="1.65" fill="none"/>
<path d="M641.52 663L641.52 670.6M638.23 664.9L644.81 668.7M644.81 664.9L638.23 668.7" stroke="#000" stroke-width="1.65" fill="none"/>
<path d="M650.88 663L650.88 670.6M647.59 664.9L654.17 668.7M654.17 664.9L647.59 668.7" stroke="#000" stroke-width="1.65" fill="none"/>
<rect x="555" y="572" width="18.3" height="8.9" fill="#353535"/>
<rect x="555" y="593.2" width="18.3" height="9" fill="#9E0000"/>
<rect x="555" y="614.5" width="18.3" height="8.8" fill="#054E62"/>
<text x="584.6" y="582.1" font-size="13.8" textLength="27.6" lengthAdjust="spacing">MC38</text>
<text x="584.6" y="603.5" font-size="13.8" textLength="84.7" lengthAdjust="spacing">MC38+hLC-MSC</text>
<text x="584.6" y="624.6" font-size="13.8" textLength="77.9" lengthAdjust="spacing">MC38+NIH3T3</text>
<text x="509.8" y="813.2" font-size="20.5" textLength="63.9" lengthAdjust="spacingAndGlyphs">48h NK</text>
<text x="366.9" y="732.3" font-size="16.6" textLength="114.2" lengthAdjust="spacingAndGlyphs" transform="rotate(-90 366.9 732.3)">Cell viability (%)</text>
</g>
<g>
<path d="M84.45 935.6V929.5M78.59 929.5H90.31" stroke="#353535" stroke-width="1.2" fill="none"/>
<path d="M73.4 1047.2V935.61Q73.4 935.6 73.41 935.6H95.49Q95.5 935.6 95.5 935.61V1047.2Z" fill="#353535"/>
<path d="M117.55 915.5V910.5M111.69 910.5H123.41" stroke="#9E0000" stroke-width="1.2" fill="none"/>
<path d="M106.5 1047.2V915.51Q106.5 915.5 106.51 915.5H128.59Q128.6 915.5 128.6 915.51V1047.2Z" fill="#9E0000"/>
<path d="M172.7 971.3V964.3M166.82 964.3H178.58" stroke="#353535" stroke-width="1.2" fill="none"/>
<path d="M161.6 1047.2V971.31Q161.6 971.3 161.61 971.3H183.79Q183.8 971.3 183.8 971.31V1047.2Z" fill="#353535"/>
<path d="M206.15 933.6V927.3M200.29 927.3H212.01" stroke="#9E0000" stroke-width="1.2" fill="none"/>
<path d="M195.1 1047.2V933.61Q195.1 933.6 195.11 933.6H217.19Q217.2 933.6 217.2 933.61V1047.2Z" fill="#9E0000"/>
<path d="M261.45 1009V1006.5M255.59 1006.5H267.31" stroke="#353535" stroke-width="1.2" fill="none"/>
<path d="M250.4 1047.2V1009.01Q250.4 1009 250.41 1009H272.49Q272.5 1009 272.5 1009.01V1047.2Z" fill="#353535"/>
<path d="M294.85 957V952.7M288.99 952.7H300.71" stroke="#9E0000" stroke-width="1.2" fill="none"/>
<path d="M283.8 1047.2V957.01Q283.8 957 283.81 957H305.89Q305.9 957 305.9 957.01V1047.2Z" fill="#9E0000"/>
<path d="M61.9 876.4V1047.2H318.5" stroke="#000" stroke-width="1.8" fill="none"/>
<path d="M54 1047.2L61.9 1047.2" stroke="#000" stroke-width="1.8"/>
<text x="52.6" y="1051.21" font-size="12.6" text-anchor="end" font-weight="700">0</text>
<path d="M54 1013.2L61.9 1013.2" stroke="#000" stroke-width="1.8"/>
<text x="52.6" y="1017.21" font-size="12.6" text-anchor="end" font-weight="700">20</text>
<path d="M54 979.2L61.9 979.2" stroke="#000" stroke-width="1.8"/>
<text x="52.6" y="983.21" font-size="12.6" text-anchor="end" font-weight="700">40</text>
<path d="M54 945.3L61.9 945.3" stroke="#000" stroke-width="1.8"/>
<text x="52.6" y="949.31" font-size="12.6" text-anchor="end" font-weight="700">60</text>
<path d="M54 911.3L61.9 911.3" stroke="#000" stroke-width="1.8"/>
<text x="52.6" y="915.31" font-size="12.6" text-anchor="end" font-weight="700">80</text>
<path d="M54 877.3L61.9 877.3" stroke="#000" stroke-width="1.8"/>
<text x="52.6" y="881.31" font-size="12.6" text-anchor="end" font-weight="700">100</text>
<path d="M100.5 1047.2L100.5 1054.2" stroke="#000" stroke-width="1.8"/>
<text x="100.5" y="1067.3" font-size="12.8" text-anchor="middle" font-weight="700">1:1</text>
<path d="M189.1 1047.2L189.1 1054.2" stroke="#000" stroke-width="1.8"/>
<text x="189.1" y="1067.3" font-size="12.8" text-anchor="middle" font-weight="700">1:2</text>
<path d="M277.5 1047.2L277.5 1054.2" stroke="#000" stroke-width="1.8"/>
<text x="277.5" y="1067.3" font-size="12.8" text-anchor="middle" font-weight="700">1:4</text>
<path d="M84 919.8V882.7H117.5V904.1" stroke="#000" stroke-width="1.7" fill="none"/>
<path d="M171.5 924.6V889H206.1V908.8" stroke="#000" stroke-width="1.7" fill="none"/>
<path d="M261.7 977.9V919.7H295.1V949.5" stroke="#000" stroke-width="1.7" fill="none"/>
<path d="M96.07 869.5L96.07 877.2M92.74 871.43L99.41 875.27M99.41 871.43L92.74 875.27" stroke="#000" stroke-width="1.65" fill="none"/>
<path d="M105.63 869.5L105.63 877.2M102.29 871.43L108.96 875.27M108.96 871.43L102.29 875.27" stroke="#000" stroke-width="1.65" fill="none"/>
<path d="M184.47 875.9L184.47 883.6M181.14 877.83L187.81 881.67M187.81 877.83L181.14 881.67" stroke="#000" stroke-width="1.65" fill="none"/>
<path d="M194.03 875.9L194.03 883.6M190.69 877.83L197.36 881.67M197.36 877.83L190.69 881.67" stroke="#000" stroke-width="1.65" fill="none"/>
<path d="M264.97 906.5L264.97 914.2M261.64 908.43L268.31 912.27M268.31 908.43L261.64 912.27" stroke="#000" stroke-width="1.65" fill="none"/>
<path d="M274.39 906.5L274.39 914.2M271.06 908.43L277.73 912.27M277.73 908.43L271.06 912.27" stroke="#000" stroke-width="1.65" fill="none"/>
<path d="M283.81 906.5L283.81 914.2M280.47 908.43L287.14 912.27M287.14 908.43L280.47 912.27" stroke="#000" stroke-width="1.65" fill="none"/>
<path d="M293.23 906.5L293.23 914.2M289.89 908.43L296.56 912.27M296.56 908.43L289.89 912.27" stroke="#000" stroke-width="1.65" fill="none"/>
<rect x="180.8" y="830.8" width="18.3" height="9.3" fill="#353535"/>
<rect x="180.8" y="851.9" width="18.3" height="9.1" fill="#9E0000"/>
<text x="209.2" y="841.4" font-size="13.8" textLength="28.1" lengthAdjust="spacing">A549</text>
<text x="209.2" y="862.2" font-size="13.8" textLength="84.7" lengthAdjust="spacing">A549+hLC-MSC</text>
<text x="155.4" y="1091.2" font-size="20.5" textLength="64.6" lengthAdjust="spacingAndGlyphs">48h NK</text>
<text x="15.8" y="1031.2" font-size="16.6" textLength="114.1" lengthAdjust="spacingAndGlyphs" transform="rotate(-90 15.8 1031.2)">Cell viability (%)</text>
</g>
<g>
<path d="M436.15 945.6V940.8M429.98 940.8H442.32" stroke="#353535" stroke-width="1.2" fill="none"/>
<path d="M424.5 1045.6V947.1Q424.5 945.6 426 945.6H446.3Q447.8 945.6 447.8 947.1V1045.6Z" fill="#353535"/>
<path d="M471.6 911V899.3M465.45 899.3H477.75" stroke="#9E0000" stroke-width="1.2" fill="none"/>
<path d="M460 1045.6V912.5Q460 911 461.5 911H481.7Q483.2 911 483.2 912.5V1045.6Z" fill="#9E0000"/>
<path d="M530.75 992.5V989M524.63 989H536.87" stroke="#353535" stroke-width="1.2" fill="none"/>
<path d="M519.2 1045.6V994Q519.2 992.5 520.7 992.5H540.8Q542.3 992.5 542.3 994V1045.6Z" fill="#353535"/>
<path d="M566 946.5V936.9M559.8 936.9H572.2" stroke="#9E0000" stroke-width="1.2" fill="none"/>
<path d="M554.3 1045.6V948Q554.3 946.5 555.8 946.5H576.2Q577.7 946.5 577.7 948V1045.6Z" fill="#9E0000"/>
<path d="M625.05 1018.6V1015.3M618.93 1015.3H631.17" stroke="#353535" stroke-width="1.2" fill="none"/>
<path d="M613.5 1045.6V1020.1Q613.5 1018.6 615 1018.6H635.1Q636.6 1018.6 636.6 1020.1V1045.6Z" fill="#353535"/>
<path d="M660.1 966.9V953M653.9 953H666.3" stroke="#9E0000" stroke-width="1.2" fill="none"/>
<path d="M648.4 1045.6V968.4Q648.4 966.9 649.9 966.9H670.3Q671.8 966.9 671.8 968.4V1045.6Z" fill="#9E0000"/>
<path d="M412.9 863.6V1045.6H686" stroke="#000" stroke-width="1.8" fill="none"/>
<path d="M404.5 1045.6L412.9 1045.6" stroke="#000" stroke-width="1.8"/>
<text x="403.2" y="1049.97" font-size="13.6" text-anchor="end" font-weight="700">0</text>
<path d="M404.5 1000.3L412.9 1000.3" stroke="#000" stroke-width="1.8"/>
<text x="403.2" y="1004.67" font-size="13.6" text-anchor="end" font-weight="700">20</text>
<path d="M404.5 955L412.9 955" stroke="#000" stroke-width="1.8"/>
<text x="403.2" y="959.37" font-size="13.6" text-anchor="end" font-weight="700">40</text>
<path d="M404.5 909.8L412.9 909.8" stroke="#000" stroke-width="1.8"/>
<text x="403.2" y="914.17" font-size="13.6" text-anchor="end" font-weight="700">60</text>
<path d="M404.5 864.5L412.9 864.5" stroke="#000" stroke-width="1.8"/>
<text x="403.2" y="868.87" font-size="13.6" text-anchor="end" font-weight="700">80</text>
<path d="M453.8 1045.6L453.8 1053.6" stroke="#000" stroke-width="1.8"/>
<text x="453.8" y="1067.3" font-size="13.4" text-anchor="middle" font-weight="700">1:1</text>
<path d="M548.2 1045.6L548.2 1053.6" stroke="#000" stroke-width="1.8"/>
<text x="548.2" y="1067.3" font-size="13.4" text-anchor="middle" font-weight="700">1:2</text>
<path d="M641.9 1045.6L641.9 1053.6" stroke="#000" stroke-width="1.8"/>
<text x="641.9" y="1067.3" font-size="13.4" text-anchor="middle" font-weight="700">1:4</text>
<path d="M436.2 924.8V870.2H471.4V877.7" stroke="#000" stroke-width="1.7" fill="none"/>
<path d="M529.3 947.7V908H566V930.8" stroke="#000" stroke-width="1.7" fill="none"/>
<path d="M625 994.4V913H660.5V945.5" stroke="#000" stroke-width="1.7" fill="none"/>
<path d="M448.25 852.5L448.25 862.8M443.79 855.08L452.71 860.22M452.71 855.08L443.79 860.22" stroke="#000" stroke-width="2.3" fill="none"/>
<path d="M459.55 852.5L459.55 862.8M455.09 855.08L464.01 860.22M464.01 855.08L455.09 860.22" stroke="#000" stroke-width="2.3" fill="none"/>
<path d="M542.25 890.4L542.25 900.7M537.79 892.97L546.71 898.12M546.71 892.97L537.79 898.12" stroke="#000" stroke-width="2.3" fill="none"/>
<path d="M553.45 890.4L553.45 900.7M548.99 892.97L557.91 898.12M557.91 892.97L548.99 898.12" stroke="#000" stroke-width="2.3" fill="none"/>
<path d="M637.15 895L637.15 905.3M632.69 897.58L641.61 902.72M641.61 897.58L632.69 902.72" stroke="#000" stroke-width="2.3" fill="none"/>
<path d="M648.25 895L648.25 905.3M643.79 897.58L652.71 902.72M652.71 897.58L643.79 902.72" stroke="#000" stroke-width="2.3" fill="none"/>
<rect x="533.1" y="831.3" width="22.1" height="13.3" fill="#353535" rx="2.5"/>
<rect x="533.1" y="853.2" width="22.1" height="13.3" fill="#9E0000" rx="2.5"/>
<text x="565.3" y="843.4" font-size="14.6" textLength="46.2" lengthAdjust="spacingAndGlyphs">HepG2</text>
<text x="564.6" y="865.2" font-size="14.6" textLength="119.3" lengthAdjust="spacingAndGlyphs">HepG2+hLC-MSC</text>
<text x="509.9" y="1090" font-size="20.5" textLength="65.1" lengthAdjust="spacingAndGlyphs">48h NK</text>
<text x="368.4" y="1023.6" font-size="16.6" textLength="114.8" lengthAdjust="spacingAndGlyphs" transform="rotate(-90 368.4 1023.6)">Cell viability (%)</text>
</g>
<text x="-0.1" y="32.7" font-size="19" textLength="12.2" lengthAdjust="spacingAndGlyphs" stroke="#000" stroke-width="0.45">A</text>
<text x="1.8" y="591" font-size="18.7" textLength="11.1" lengthAdjust="spacingAndGlyphs" stroke="#000" stroke-width="0.5">B</text>
</svg>
</body></html>
